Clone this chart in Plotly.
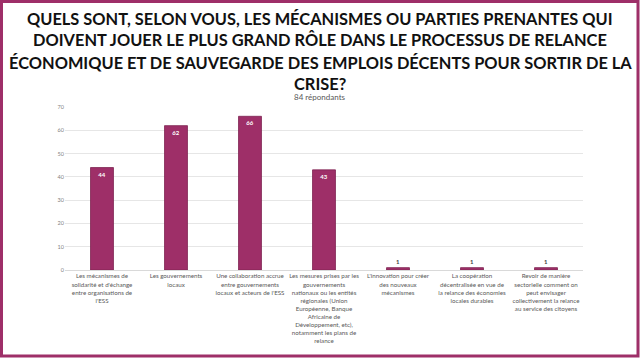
import plotly.graph_objects as go

categories = [
    "Les mécanismes de<br>solidarité et d'échange<br>entre organisations de<br>l'ESS",
    "Les gouvernements<br>locaux",
    "Une collaboration accrue<br>entre gouvernements<br>locaux et acteurs de l'ESS",
    "Les mesures prises par les<br>gouvernements<br>nationaux ou les entités<br>régionales (Union<br>Européenne, Banque<br>Africaine de<br>Développement, etc),<br>notamment les plans de<br>relance",
    "L'innovation pour créer<br>des nouveaux<br>mécanismes",
    "La coopération<br>décentralisée en vue de<br>la relance des économies<br>locales durables",
    "Revoir de manière<br>sectorielle comment on<br>peut envisager<br>collectivement la relance<br>au service des citoyens",
]
values = [44, 62, 66, 43, 1, 1, 1]
y_ticks = [0, 10, 20, 30, 40, 50, 60, 70]

title_lines = [
    "QUELS SONT, SELON VOUS, LES MÉCANISMES OU PARTIES PRENANTES QUI",
    "DOIVENT JOUER LE PLUS GRAND RÔLE DANS LE PROCESSUS DE RELANCE",
    "ÉCONOMIQUE ET DE SAUVEGARDE DES EMPLOIS DÉCENTS POUR SORTIR DE LA",
    "CRISE?",
]
subtitle = "84 répondants"

BAR = "#9e2f68"
W, H = 640, 360
ML, MR, MT, MB = 65, 57, 107, 90
PW, PH = W - ML - MR, H - MT - MB

def px_x(p):
    return (p - ML) / PW

def px_y(p):
    return (H - MB - p) / PH

positions = ["inside" if v > 5 else "outside" for v in values]
tcolors = ["white" if v > 5 else "#404040" for v in values]

fig = go.Figure(go.Bar(
    x=list(range(len(categories))),
    y=values,
    width=0.31,
    marker=dict(color=BAR, line=dict(color="#7d2352", width=0.8)),
    text=[str(v) for v in values],
    textposition=positions,
    insidetextanchor="end",
    textfont=dict(color=tcolors, size=6, family="Lato", weight="bold"),
    constraintext="none",
    cliponaxis=False,
))

annotations = []
for i, line in enumerate(title_lines):
    annotations.append(dict(
        text=line, xref="paper", yref="paper",
        x=px_x(320), y=px_y(18 + 22 * i), xanchor="center", yanchor="middle",
        showarrow=False,
        font=dict(family="Lato", size=16.4, color="#111111", weight="bold"),
    ))
annotations.append(dict(
    text=subtitle, xref="paper", yref="paper",
    x=px_x(320), y=px_y(97.5), xanchor="center", yanchor="middle",
    showarrow=False, font=dict(family="Lato", size=8, color="#595959"),
))

fig.update_layout(
    width=W, height=H,
    margin=dict(l=ML, r=MR, t=MT, b=MB, autoexpand=False),
    paper_bgcolor="white",
    plot_bgcolor="white",
    showlegend=False,
    xaxis=dict(
        tickmode="array",
        tickvals=list(range(len(categories))),
        ticktext=categories,
        range=[-0.5, len(categories) - 0.5],
        tickfont=dict(family="Lato", size=6.2, color="#595959"),
        tickangle=0,
        showgrid=False,
        showline=True, linecolor="#d9d9d9", linewidth=1,
        ticks="",
        automargin=False,
    ),
    yaxis=dict(
        range=[0, 70],
        tickvals=y_ticks,
        tickfont=dict(family="Lato", size=5.5, color="#7f7f7f"),
        showgrid=True, gridcolor="#e6e6e6", gridwidth=1,
        zeroline=False,
        ticks="", ticklen=0,
        automargin=False,
    ),
    annotations=annotations,
    shapes=[dict(
        type="rect", xref="paper", yref="paper",
        x0=px_x(1.5), x1=px_x(638), y0=px_y(356), y1=px_y(1.5),
        line=dict(color="#9e2f68", width=3), fillcolor="rgba(0,0,0,0)",
        layer="above",
    )],
)

fig.write_html(
    "out.html",
    config={"displayModeBar": False},
    post_script="document.body.style.margin='0';document.body.style.padding='0';document.body.style.overflow='hidden';",
)
